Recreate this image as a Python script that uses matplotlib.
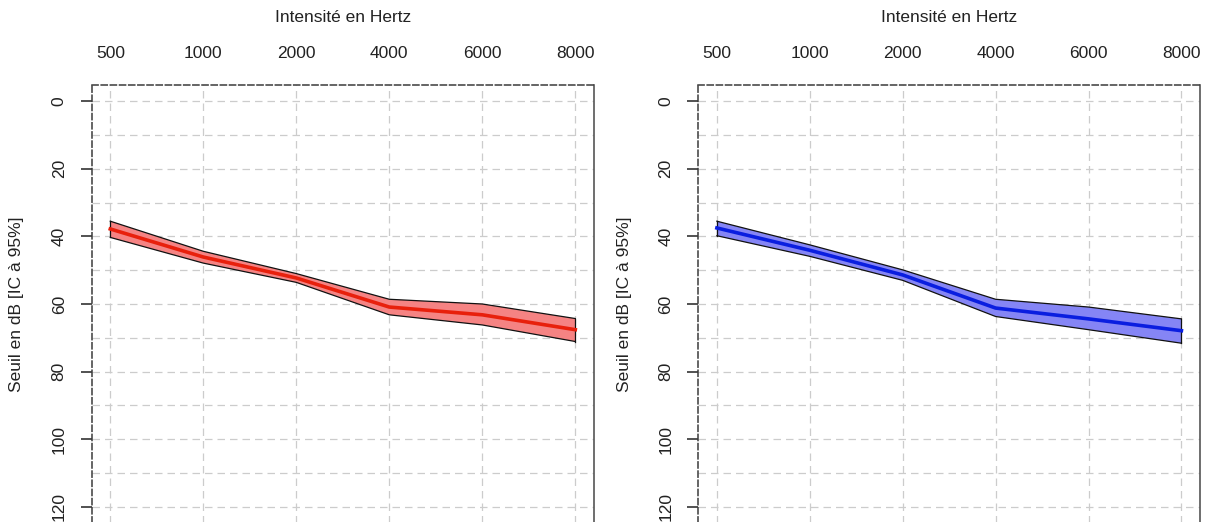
import matplotlib
matplotlib.use("Agg")
import matplotlib.pyplot as plt
import numpy as np

plt.rcParams['font.family'] = ['Liberation Sans', 'DejaVu Sans']

freq_labels = ["500", "1000", "2000", "4000", "6000", "8000"]

red_mean = [37.8, 46.1, 52.3, 60.9, 63.2, 67.6]
red_upper = [35.5, 44.4, 51.0, 58.6, 60.0, 64.3]
red_lower = [40.3, 47.9, 53.6, 63.2, 66.2, 71.1]

blue_mean = [37.5, 44.1, 51.4, 61.2, 64.4, 67.9]
blue_upper = [35.5, 42.5, 49.9, 58.6, 60.9, 64.4]
blue_lower = [39.8, 45.9, 53.0, 63.7, 67.6, 71.6]

W, H = 1208, 522
fig = plt.figure(figsize=(W / 100, H / 100), dpi=100)

panels = [
    dict(left=91.7, right=593.9, mean=red_mean, up=red_upper, lo=red_lower,
         line='#e8200c', fill='#f58383', ylab_x=17),
    dict(left=698.3, right=1200.0, mean=blue_mean, up=blue_upper, lo=blue_lower,
         line='#0a1ee0', fill='#8585f5', ylab_x=625),
]

top_px, bot_px = 85.0, 523.0
FS = 12.5

for p in panels:
    ax = fig.add_axes([p['left'] / W, (H - bot_px) / H,
                       (p['right'] - p['left']) / W, (bot_px - top_px) / H])
    x = np.arange(1, len(freq_labels) + 1)
    ax.set_xlim(0.8, 6.2)
    ax.set_ylim(124.8, -4.8)

    # grid
    for xv in x:
        ax.axvline(xv, color='#cccccc', lw=0.9, dashes=(6, 4), zorder=0)
    for yv in range(0, 130, 10):
        ax.axhline(yv, color='#cccccc', lw=0.9, dashes=(6, 4), zorder=0)

    ax.fill_between(x, p['up'], p['lo'], facecolor=p['fill'], edgecolor='none', zorder=2)
    ax.plot(x, p['up'], color='#111111', lw=0.9, zorder=3)
    ax.plot(x, p['lo'], color='#111111', lw=0.9, zorder=3)
    ax.plot([x[0], x[0]], [p['up'][0], p['lo'][0]], color='#111111', lw=0.9, zorder=3)
    ax.plot([x[-1], x[-1]], [p['up'][-1], p['lo'][-1]], color='#111111', lw=0.9, zorder=3)
    ax.plot(x, p['mean'], color=p['line'], lw=2.6, zorder=4)

    ax.xaxis.tick_top()
    ax.set_xticks(x)
    ax.set_xticklabels(freq_labels, fontsize=FS, color='#222222')
    ax.tick_params(axis='x', length=0, pad=17)

    ax.set_yticks(range(0, 121, 20))
    ax.set_yticklabels([str(v) for v in range(0, 121, 20)], fontsize=FS,
                       rotation=90, va='center', color='#222222')
    ax.tick_params(axis='y', length=8, width=1.1, pad=10, color='#222222')

    for side in ['top', 'left']:
        ax.spines[side].set_linestyle((0, (4, 2)))
        ax.spines[side].set_color('#3a3a3a')
        ax.spines[side].set_linewidth(1.1)
    ax.spines['right'].set_color('#555555')
    ax.spines['right'].set_linewidth(1.2)
    ax.spines['bottom'].set_visible(False)

    cx = (p['left'] + p['right']) / 2 / W
    fig.text(cx, 1 - 17 / H, "Intensité en Hertz", fontsize=FS, ha='center',
             va='center', color='#222222')
    fig.text(p['ylab_x'] / W, 1 - 304 / H, "Seuil en dB [IC à 95%]", fontsize=FS,
             rotation=90, ha='center', va='center', color='#222222')

fig.savefig("out.png", dpi=100)
